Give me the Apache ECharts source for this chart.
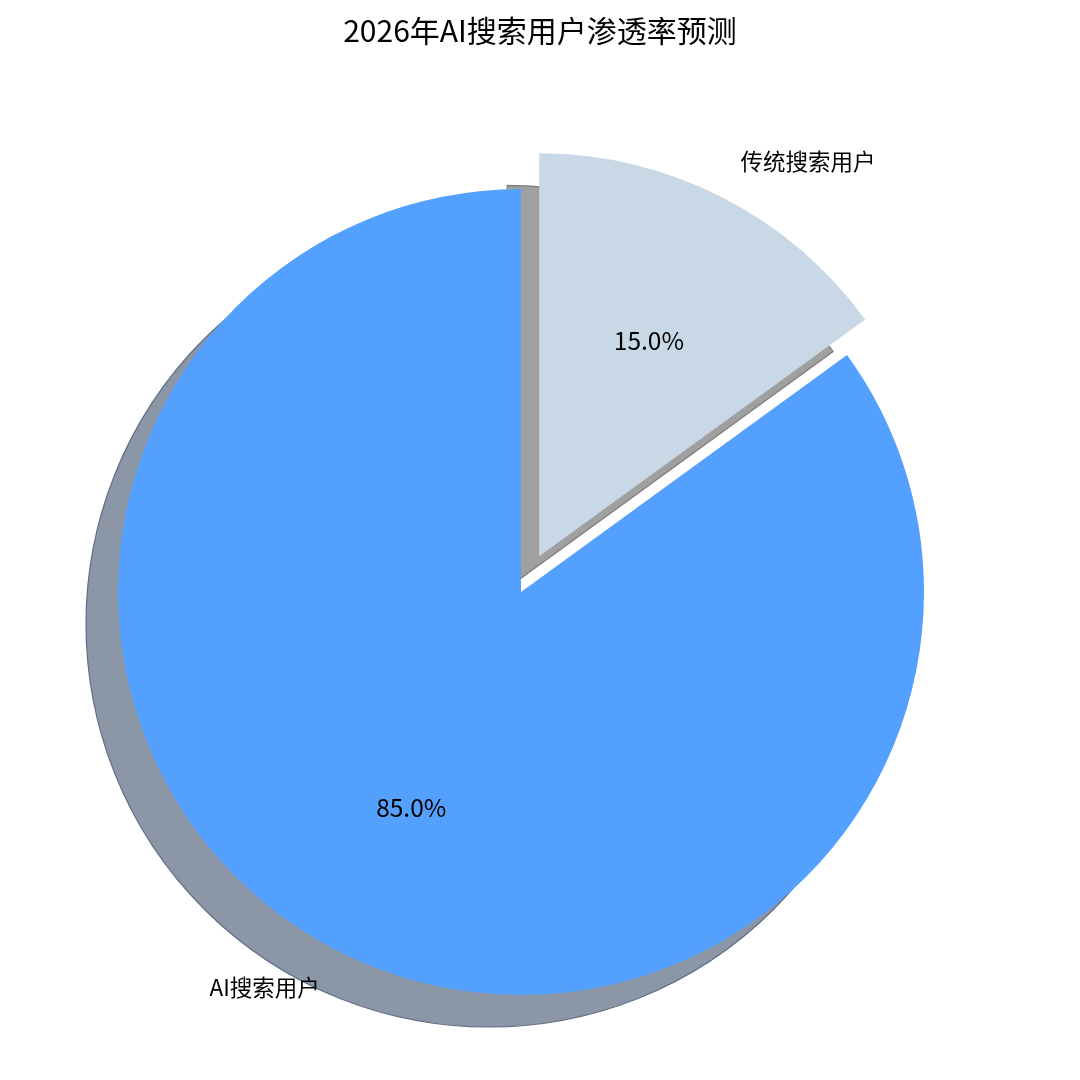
<!DOCTYPE html>
<html>
<head>
<meta charset="utf-8">
<script src="https://cdn.jsdelivr.net/npm/echarts@6/dist/echarts.min.js"></script>
<style>
html,body{margin:0;padding:0;background:#fff;}
#chart{width:1080px;height:1080px;}
</style>
</head>
<body>
<div id="chart"></div>
<script>
const titleText = '2026年AI搜索用户渗透率预测';
const categories = ['AI搜索用户', '传统搜索用户'];
const values = [85, 15];
const exploded = [false, true];
const sliceColors = ['#53a0ff', '#c9d8e6'];
const shadowColors = ['#8b97a7', '#a0a0a0'];
const shadowEdges = ['#617086', '#7c7c7c'];

const FONT = '"Noto Sans CJK SC", "Noto Sans", sans-serif';
const R = 403;
const CX = 521, CY = 592;
const SH = 32;
const OFFSET = 40;

const chart = echarts.init(document.getElementById('chart'), null, {renderer: 'canvas'});

const base = {
  type: 'pie',
  startAngle: 90,
  clockwise: false,
  selectedMode: 'single',
  selectedOffset: OFFSET,
  avoidLabelOverlap: false,
  animation: false,
  emphasis: {disabled: true, scale: false},
  minAngle: 0
};

const shadowSeries = Object.assign({}, base, {
  name: 'shadow',
  center: [CX - SH, CY + SH],
  radius: [0, R],
  silent: true,
  label: {show: false},
  labelLine: {show: false},
  data: categories.map((c, i) => ({
    name: c, value: values[i], selected: exploded[i],
    itemStyle: {color: shadowColors[i], borderColor: shadowEdges[i], borderWidth: 1.2},
    select: {itemStyle: {color: shadowColors[i], borderColor: shadowEdges[i], borderWidth: 1.2}}
  }))
});

const mainSeries = Object.assign({}, base, {
  name: 'main',
  center: [CX, CY],
  radius: [0, R],
  label: {
    show: true, position: 'outside', fontSize: 22.5, color: '#000', fontFamily: FONT,
    distanceToLabelLine: 0, formatter: '{b}'
  },
  labelLine: {show: false, length: R * 0.1, length2: 0},
  data: categories.map((c, i) => ({
    name: c, value: values[i], selected: exploded[i],
    itemStyle: {color: sliceColors[i], borderWidth: 0},
    select: {itemStyle: {color: sliceColors[i], borderWidth: 0}}
  }))
});

const pctSeries = Object.assign({}, base, {
  name: 'pct',
  center: [CX, CY],
  radius: [R * 0.2 - 6, R],
  silent: true,
  label: {
    show: true, position: 'inside', fontSize: 24.5, color: '#000', fontFamily: FONT,
    formatter: p => p.percent.toFixed(1) + '%'
  },
  labelLine: {show: false},
  data: categories.map((c, i) => ({
    name: c, value: values[i], selected: exploded[i],
    itemStyle: {color: 'rgba(0,0,0,0)', borderWidth: 0},
    select: {itemStyle: {color: 'rgba(0,0,0,0)', borderWidth: 0}}
  }))
});

chart.setOption({
  backgroundColor: '#ffffff',
  animation: false,
  title: {
    text: titleText,
    left: 'center',
    top: 11,
    textStyle: {fontSize: 30, fontWeight: 'normal', color: '#000', fontFamily: FONT}
  },
  series: [shadowSeries, mainSeries, pctSeries]
});
</script>
</body>
</html>
